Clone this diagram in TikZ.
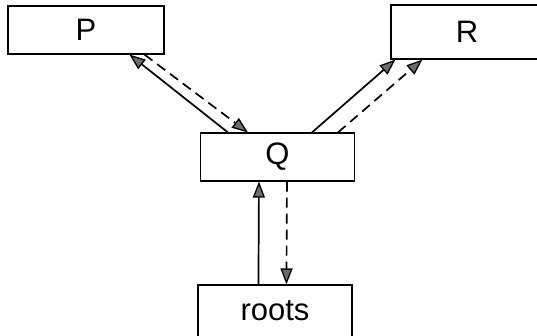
\documentclass[tikz,border=0pt]{standalone}
\usepackage{fontspec}
\setmainfont{Liberation Sans}
\usetikzlibrary{arrows.meta}
\begin{document}
\begin{tikzpicture}[x=1pt,y=-1pt,
  box/.style={draw=black,line width=1.1pt,inner sep=0pt,font=\fontsize{31}{32}\selectfont},
  conn/.style={line width=1.7pt,-{Triangle[length=16pt,width=12pt,fill=gray!85!black,line width=1.3pt]}},
  dconn/.style={conn,dash pattern=on 10pt off 6pt}]
\useasboundingbox (0,0) rectangle (537,335);
\node[box,minimum width=156pt,minimum height=48pt] (P) at (86,30) {P};
\node[box,minimum width=152pt,minimum height=54pt] (R) at (467,32) {R};
\node[box,minimum width=154pt,minimum height=48pt] (Q) at (277.5,157) {Q};
\node[box,minimum width=154pt,minimum height=52pt] (roots) at (275,311) {roots};
\draw[conn] ([xshift=28pt]Q.north west) -- ([xshift=122pt]P.south west);
\draw[dconn] ([xshift=137pt]P.south west) -- ([xshift=48pt]Q.north west);
\draw[conn] ([xshift=112pt]Q.north west) -- ([xshift=5pt]R.south west);
\draw[dconn] ([xshift=138pt]Q.north west) -- ([xshift=32pt]R.south west);
\draw[conn] ([xshift=61pt]roots.north west) -- ([xshift=59pt]Q.south west);
\draw[dconn] ([xshift=87pt]Q.south west) -- ([xshift=89pt]roots.north west);
\end{tikzpicture}
\end{document}
